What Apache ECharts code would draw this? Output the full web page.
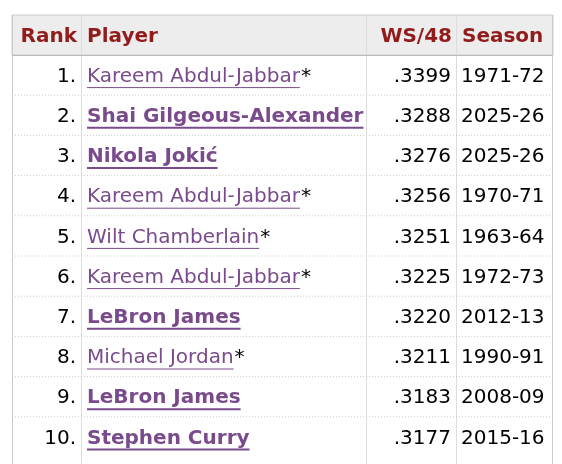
<!DOCTYPE html>
<html>
<head>
<meta charset="utf-8">
<script src="https://cdn.jsdelivr.net/npm/echarts@6/dist/echarts.min.js"></script>
<style>html,body{margin:0;padding:0;background:#fff}#main{width:562px;height:464px}</style>
</head>
<body>
<div id="main"></div>
<script>
const headers = ['Rank', 'Player', 'WS/48', 'Season'];
const ranks = ['1.', '2.', '3.', '4.', '5.', '6.', '7.', '8.', '9.', '10.'];
const players = ['Kareem Abdul-Jabbar', 'Shai Gilgeous-Alexander', 'Nikola Jokić', 'Kareem Abdul-Jabbar',
  'Wilt Chamberlain', 'Kareem Abdul-Jabbar', 'LeBron James', 'Michael Jordan', 'LeBron James', 'Stephen Curry'];
const hof = [true, false, false, true, true, true, false, true, false, false];
const active = [false, true, true, false, false, false, true, false, true, true];
const ws48 = ['.3399', '.3288', '.3276', '.3256', '.3251', '.3225', '.3220', '.3211', '.3183', '.3177'];
const seasons = ['1971-72', '2025-26', '2025-26', '1970-71', '1963-64', '1972-73', '2012-13', '1990-91', '2008-09', '2015-16'];

const chart = echarts.init(document.getElementById('main'));
const FONT = 'DejaVu Sans, Verdana, sans-serif';
const cols = [12, 81, 366, 456, 553];
const top0 = 15, headH = 40, rowH = 40.2;
const ctx = document.createElement('canvas').getContext('2d');
function w(txt, bold) { ctx.font = (bold ? 'bold ' : '') + '20px ' + FONT; return ctx.measureText(txt).width; }

let g = [];
g.push({type: 'rect', shape: {x: cols[0], y: top0, width: cols[4] - cols[0], height: headH}, style: {fill: '#ededed', stroke: '#cccccc', lineWidth: 1}});
const bottom = top0 + headH + rowH * 11;
for (let c = 1; c < 4; c++) {
  g.push({type: 'line', shape: {x1: cols[c] + 0.5, y1: top0, x2: cols[c] + 0.5, y2: bottom}, style: {stroke: '#dddddd', lineWidth: 1}});
}
g.push({type: 'line', shape: {x1: cols[0] + 0.5, y1: top0, x2: cols[0] + 0.5, y2: bottom}, style: {stroke: '#cccccc'}});
g.push({type: 'line', shape: {x1: cols[4] - 0.5, y1: top0, x2: cols[4] - 0.5, y2: bottom}, style: {stroke: '#cccccc'}});
g.push({type: 'line', shape: {x1: cols[0], y1: top0 + headH + 0.5, x2: cols[4], y2: top0 + headH + 0.5}, style: {stroke: '#bbbbbb'}});

const hy = top0 + headH / 2 + 2;
const hAlign = ['right', 'left', 'right', 'left'];
headers.forEach((h, i) => {
  g.push({type: 'text', x: hAlign[i] === 'right' ? cols[i + 1] - 4 : cols[i] + 6, y: hy,
    style: {text: h, font: 'bold 20px ' + FONT, fill: '#921c1c', align: hAlign[i], verticalAlign: 'middle'}});
});

for (let r = 0; r < ranks.length; r++) {
  const y = top0 + headH + rowH * r + rowH / 2 + 1.5;
  if (r > 0) {
    g.push({type: 'line', shape: {x1: cols[0], y1: top0 + headH + rowH * r, x2: cols[4], y2: top0 + headH + rowH * r},
      style: {stroke: '#cccccc', lineDash: [1, 2]}});
  }
  const font = '20px ' + FONT;
  g.push({type: 'text', x: cols[1] - 5, y: y, style: {text: ranks[r], font: font, fill: '#000', align: 'right', verticalAlign: 'middle'}});
  const bold = active[r];
  const pw = w(players[r], bold);
  const px = cols[1] + 6;
  g.push({type: 'text', x: px, y: y, style: {text: players[r], font: (bold ? 'bold ' : '') + font, fill: '#7a4b8c', align: 'left', verticalAlign: 'middle'}});
  g.push({type: 'line', shape: {x1: px, y1: y + 11, x2: px + pw, y2: y + 11}, style: {stroke: '#7a4b8c', lineWidth: bold ? 2 : 1}});
  if (hof[r]) {
    g.push({type: 'text', x: px + pw + 1, y: y, style: {text: '*', font: font, fill: '#000', align: 'left', verticalAlign: 'middle'}});
  }
  g.push({type: 'text', x: cols[3] - 5, y: y, style: {text: ws48[r], font: font, fill: '#000', align: 'right', verticalAlign: 'middle'}});
  g.push({type: 'text', x: cols[3] + 5, y: y, style: {text: seasons[r], font: font, fill: '#000', align: 'left', verticalAlign: 'middle'}});
}

chart.setOption({animation: false, graphic: {elements: g}});
</script>
</body>
</html>
